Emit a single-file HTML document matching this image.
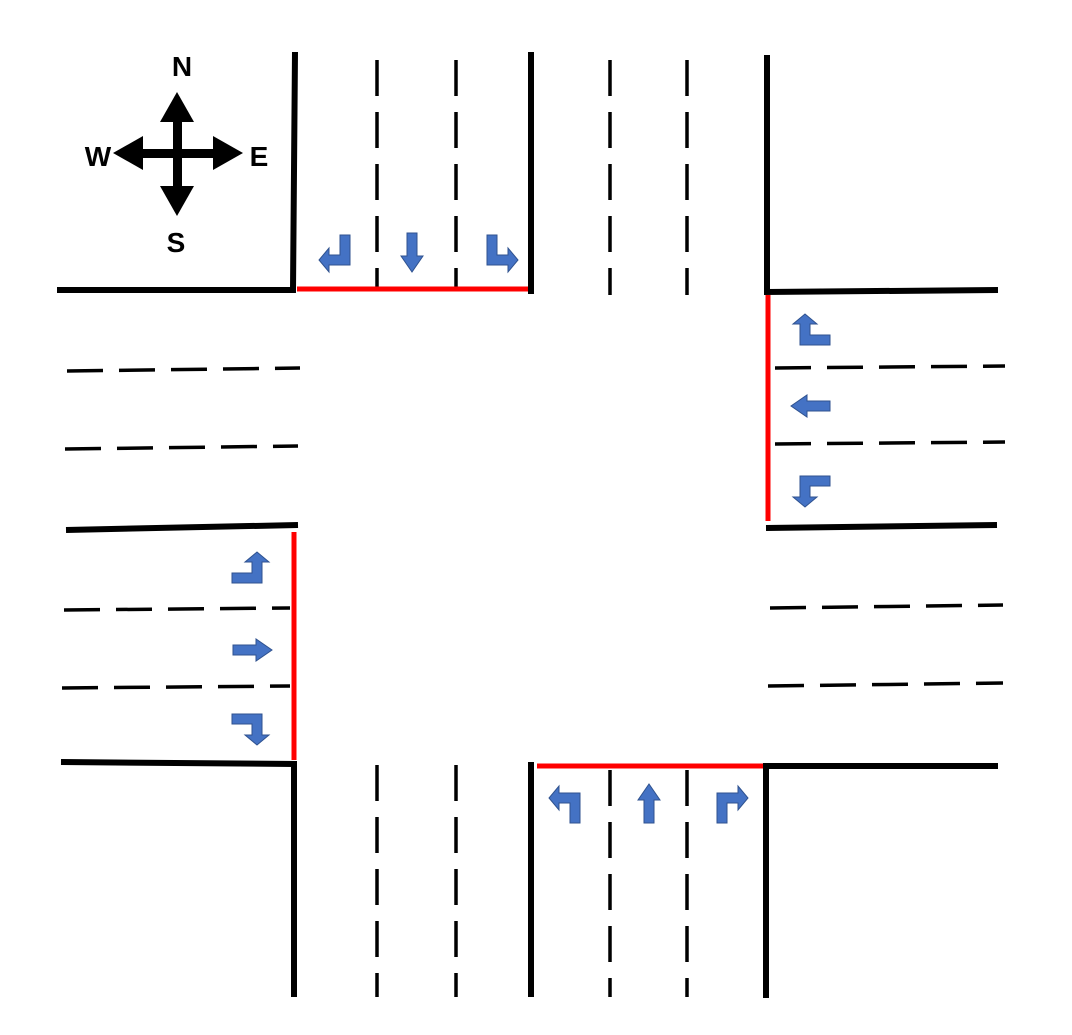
<!DOCTYPE html>
<html><head><meta charset="utf-8"><style>
html,body{margin:0;padding:0;background:#fff;}
svg{display:block;}
text{font-family:"Liberation Sans",sans-serif;font-weight:bold;font-size:28px;fill:#000;}
</style></head><body>
<svg width="1072" height="1035" viewBox="0 0 1072 1035">
<defs>
<polygon id="bent" points="0,0 10,0 10,20 21,20 21,13 31,25 21,37 21,30 0,30" fill="#4472C4" stroke="#2F528F" stroke-width="1"/>
<polygon id="straight" points="-5,0 5,0 5,23 11,23 0,39 -11,23 -5,23" fill="#4472C4" stroke="#2F528F" stroke-width="1"/>
</defs>
<g fill="#000">
<rect x="173" y="115" width="9" height="80"/>
<rect x="135" y="149" width="85" height="9"/>
<polygon points="177,92 194,122 160,122"/>
<polygon points="177,216 194,186 160,186"/>
<polygon points="113,153 143,136 143,170"/>
<polygon points="243,153 213,136 213,170"/>
<text x="182" y="76" text-anchor="middle">N</text>
<text x="98" y="166" text-anchor="middle">W</text>
<text x="259" y="166" text-anchor="middle">E</text>
<text x="176" y="252" text-anchor="middle">S</text>
</g>
<g stroke="#000" stroke-width="6" fill="none">
<polyline points="57,290 293,290 295,52"/>
<line x1="531" y1="52" x2="531" y2="294"/>
<polyline points="767,55 767,292 998,290"/>
<line x1="766" y1="528" x2="997" y2="525"/>
<line x1="66" y1="530" x2="298" y2="525"/>
<polyline points="61,762 294,764 294,997"/>
<line x1="531" y1="762" x2="531" y2="997"/>
<polyline points="766,998 766,766 998,766"/>
</g>
<g stroke="#000" stroke-width="3.5" fill="none" stroke-dasharray="36,16">
<line x1="377" y1="60" x2="377" y2="290"/>
<line x1="456" y1="60" x2="456" y2="290"/>
<line x1="610" y1="60" x2="610" y2="295"/>
<line x1="687" y1="60" x2="687" y2="295"/>
<line x1="775" y1="368" x2="1005" y2="366"/>
<line x1="775" y1="444" x2="1005" y2="442"/>
<line x1="770" y1="608" x2="1003" y2="605"/>
<line x1="768" y1="686" x2="1003" y2="683"/>
<line x1="67" y1="371" x2="300" y2="368"/>
<line x1="65" y1="449" x2="298" y2="446"/>
<line x1="64" y1="610" x2="290" y2="608"/>
<line x1="62" y1="688" x2="290" y2="686"/>
<line x1="377" y1="765" x2="377" y2="997"/>
<line x1="456" y1="765" x2="456" y2="997"/>
<line x1="610" y1="770" x2="610" y2="997"/>
<line x1="687" y1="770" x2="687" y2="997"/>
</g>
<g stroke="#FF0000" stroke-width="5">
<line x1="297" y1="289" x2="528" y2="289"/>
<line x1="768" y1="295" x2="768" y2="521"/>
<line x1="294" y1="532" x2="294" y2="760"/>
<line x1="537" y1="766" x2="763" y2="766"/>
</g>
<g>
<use href="#bent" transform="translate(350,235) scale(-1,1)"/>
<use href="#straight" transform="translate(412,233)"/>
<use href="#bent" transform="translate(487,235)"/>
<use href="#bent" transform="translate(830,345) scale(-1,1) rotate(-90)"/>
<use href="#straight" transform="translate(830,406) rotate(90)"/>
<use href="#bent" transform="translate(830,476) scale(-1,-1) rotate(-90)"/>
<use href="#bent" transform="translate(232,583) rotate(-90)"/>
<use href="#straight" transform="translate(233,650) rotate(-90)"/>
<use href="#bent" transform="translate(232,714) scale(1,-1) rotate(-90)"/>
<use href="#bent" transform="translate(580,823) scale(-1,-1)"/>
<use href="#straight" transform="translate(649,823) rotate(180)"/>
<use href="#bent" transform="translate(717,823) scale(1,-1)"/>
</g>
</svg>
</body></html>
